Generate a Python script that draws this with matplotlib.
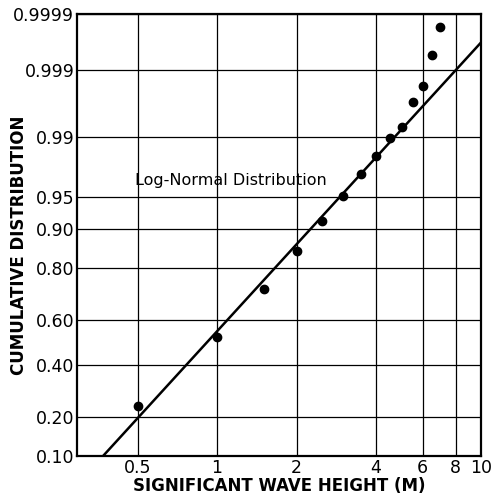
import numpy as np
import matplotlib.pyplot as plt
from statistics import NormalDist

# observed significant wave heights (m) and their cumulative frequency
wave_height = [0.5, 1.0, 1.5, 2.0, 2.5, 3.0, 3.5, 4.0, 4.5, 5.0, 5.5, 6.0, 6.5, 7.0]
cum_prob = [0.238, 0.527, 0.727, 0.85, 0.916, 0.952, 0.972, 0.9827, 0.9896,
            0.9927, 0.9968, 0.99816, 0.99943, 0.99982]

# fitted log-normal (log10 median, log10 sigma)
fit_log_median = -0.040
fit_log_sigma = 0.306

y_ticks = [0.10, 0.20, 0.40, 0.60, 0.80, 0.90, 0.95, 0.99, 0.999, 0.9999]
y_tick_labels = ['0.10', '0.20', '0.40', '0.60', '0.80', '0.90', '0.95', '0.99', '0.999', '0.9999']
x_ticks = [0.5, 1, 2, 4, 6, 8, 10]
x_tick_labels = ['0.5', '1', '2', '4', '6', '8', '10']

nd = NormalDist()


def _probit(p):
    if not np.isfinite(p):
        return np.nan
    return nd.inv_cdf(min(max(p, 1e-12), 1 - 1e-12))


def _inv_probit(z):
    if not np.isfinite(z):
        return np.nan
    return nd.cdf(z)


probit = np.vectorize(_probit, otypes=[float])
inv_probit = np.vectorize(_inv_probit, otypes=[float])

fig = plt.figure(figsize=(4.91, 4.99), dpi=100)
ax = fig.add_axes([0.157, 0.086, 0.823, 0.886])

ax.set_xscale('log')
ax.set_yscale('function', functions=(probit, inv_probit))

# fitted line
xs = np.logspace(np.log10(0.3), 1, 200)
ps = np.array([nd.cdf((np.log10(x) - fit_log_median) / fit_log_sigma) for x in xs])
ax.plot(xs, ps, color='black', lw=1.8, zorder=3)

ax.plot(wave_height, cum_prob, 'o', color='black', ms=6, zorder=4)

ax.set_xlim(0.295, 10)
ax.set_ylim(0.10, 0.9999)

ax.set_xticks(x_ticks)
ax.set_xticklabels(x_tick_labels)
ax.xaxis.set_minor_locator(plt.NullLocator())
ax.set_yticks(y_ticks)
ax.set_yticklabels(y_tick_labels)
ax.yaxis.set_minor_locator(plt.NullLocator())
ax.tick_params(length=0, labelsize=12.5, pad=2)

ax.grid(True, color='black', lw=0.9)
for s in ax.spines.values():
    s.set_linewidth(1.6)

ax.text(0.49, 0.967, 'Log-Normal Distribution', fontsize=11.5, va='center', ha='left')

ax.set_xlabel('SIGNIFICANT WAVE HEIGHT (M)', fontsize=12, fontweight='bold', labelpad=0)
ax.set_ylabel('CUMULATIVE DISTRIBUTION', fontsize=12, fontweight='bold')
ax.yaxis.set_label_coords(-0.122, 0.477)

fig.savefig('out.png', dpi=100)
